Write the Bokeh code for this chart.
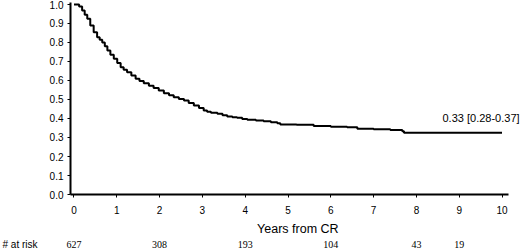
from bokeh.plotting import figure
from bokeh.models import Label, LabelSet, ColumnDataSource, FixedTicker, NumeralTickFormatter, Range1d
from bokeh.embed import file_html
from bokeh.resources import INLINE

# Kaplan-Meier curve
times = [0, 0.12, 0.19, 0.25, 0.31, 0.38, 0.46, 0.54, 0.60, 0.66, 0.72, 0.78, 0.85, 0.93,
         1.01, 1.09, 1.16, 1.24, 1.34, 1.44, 1.53, 1.63, 1.75, 1.86, 1.98, 2.10, 2.22, 2.33,
         2.45, 2.57, 2.68, 2.80, 2.92, 3.03, 3.11, 3.20, 3.35, 3.47, 3.58, 3.70, 3.81, 3.93,
         4.05, 4.25, 4.43, 4.60, 4.75, 4.82, 5.20, 5.60, 6.00, 6.38, 6.62, 7.00, 7.39, 7.67,
         7.71, 10.0]
surv = [1.0, 0.99, 0.968, 0.946, 0.925, 0.89, 0.854, 0.828, 0.815, 0.80, 0.78, 0.758, 0.736, 0.714,
        0.692, 0.67, 0.657, 0.644, 0.626, 0.609, 0.597, 0.586, 0.573, 0.561, 0.547, 0.533, 0.522, 0.512,
        0.503, 0.495, 0.482, 0.468, 0.455, 0.442, 0.435, 0.43, 0.425, 0.417, 0.41, 0.407, 0.404, 0.398,
        0.393, 0.39, 0.386, 0.38, 0.375, 0.368, 0.367, 0.36, 0.357, 0.354, 0.346, 0.343, 0.34, 0.333,
        0.325, 0.325]

x_ticks = [0, 1, 2, 3, 4, 5, 6, 7, 8, 9, 10]
y_ticks = [0.0, 0.1, 0.2, 0.3, 0.4, 0.5, 0.6, 0.7, 0.8, 0.9, 1.0]

risk_times = [0, 2, 4, 6, 8, 9]
risk_counts = ["627", "308", "193", "104", "43", "19"]

annotation_text = "0.33 [0.28-0.37]"
x_label = "Years from CR"
risk_label = "# at risk"

FONT = "Liberation Sans"

# view extents (frame covers the whole figure; axes drawn at fixed locations)
X0, X1 = -1.717, 10.432
Y0, Y1 = -0.2947, 1.021
AX_X = -0.082  # where the y axis sits

p = figure(frame_width=520, frame_height=250,
           min_border_left=0, min_border_right=0, min_border_top=0, min_border_bottom=0,
           x_range=Range1d(X0, X1), y_range=Range1d(Y0, Y1),
           output_backend="svg", toolbar_location=None, tools="")
p.outline_line_color = None
p.grid.visible = False
p.background_fill_color = "white"
p.border_fill_color = "white"

p.step(times, surv, mode="after", line_color="black", line_width=2)

xa = p.xaxis[0]
ya = p.yaxis[0]
xa.fixed_location = 0
ya.fixed_location = AX_X
xa.bounds = (AX_X, 10.16)
ya.bounds = (0, 1.01)
for ax in (xa, ya):
    ax.axis_line_width = 2
    ax.axis_line_color = "black"
    ax.major_tick_line_color = "black"
    ax.major_tick_line_width = 1
    ax.major_tick_in = 0
    ax.major_tick_out = 3
    ax.minor_tick_line_color = None
    ax.major_label_text_font = FONT
    ax.major_label_text_font_size = "10px"
    ax.major_label_text_color = "black"

xa.ticker = FixedTicker(ticks=x_ticks)
ya.ticker = FixedTicker(ticks=y_ticks)
ya.formatter = NumeralTickFormatter(format="0.0")
xa.major_label_standoff = 8
ya.major_label_standoff = 4

p.add_layout(Label(x=10.41, y=0.40, text=annotation_text,
                   text_align="right", text_baseline="middle", text_font=FONT,
                   text_font_size="11px", text_color="black"))

p.add_layout(Label(x=5.23, y=-0.179, text=x_label, text_align="center", text_baseline="middle",
                   text_font=FONT, text_font_size="12.5px", text_color="black"))

p.add_layout(Label(x=-1.67, y=-0.263, text=risk_label, text_align="left", text_baseline="middle",
                   text_font=FONT, text_font_size="10px", text_color="black"))

src = ColumnDataSource(dict(x=risk_times, y=[-0.263] * len(risk_times), t=risk_counts))
p.add_layout(LabelSet(x="x", y="y", text="t", source=src, text_align="center",
                      text_baseline="middle", text_font=FONT, text_font_size="10px",
                      text_color="black"))

open("out.html", "w").write(file_html(p, INLINE))
